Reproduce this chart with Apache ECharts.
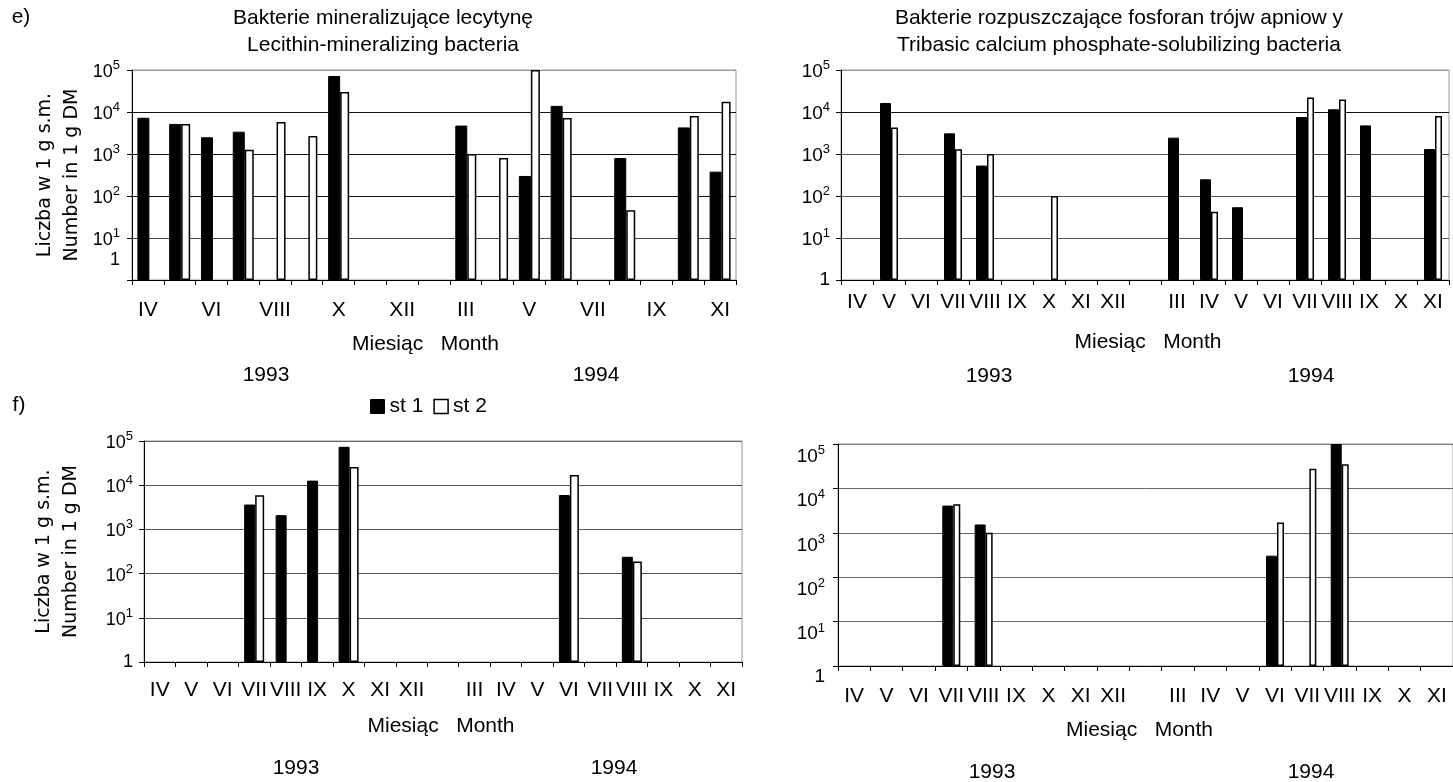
<!DOCTYPE html>
<html>
<head>
<meta charset="utf-8">
<script src="https://cdn.jsdelivr.net/npm/echarts@6/dist/echarts.min.js"></script>
<style>
  html, body { margin: 0; padding: 0; background: #fff; }
  #c { width: 1453px; height: 782px; }
</style>
</head>
<body>
<div id="c"></div>
<script>
// ---- data ----
const months = ['IV','V','VI','VII','VIII','IX','X','XI','XII','','III','IV','V','VI','VII','VIII','IX','X','XI'];
const yTickLabels = ['1','10{s|1}','10{s|2}','10{s|3}','10{s|4}','10{s|5}'];
const yearLabels = ['1993','1994'];
const seriesNames = ['st 1','st 2'];
const titleLecithin = 'Bakterie mineralizujące lecytynę\nLecithin-mineralizing bacteria';
const titlePhosphate = 'Bakterie rozpuszczające fosforan trójw apniow y\nTribasic calcium phosphate-solubilizing bacteria';
const xAxisName = 'Miesiąc   Month';
const yAxisName = 'Liczba w 1 g s.m.\nNumber in 1 g DM';

// e) left: lecithin-mineralizing
const eLeftSt1 = [7300, 5200, 2500, 3400, null, null, 72000, null, null, null, 4750, null, 300, 14000, null, 800, null, 4300, 380];
const eLeftSt2 = [null, 5200, null, 1270, 5800, 2700, 30000, null, null, null, 1000, 800, 100000, 7200, null, 46, null, 8000, 17500];
// e) right: tribasic calcium phosphate-solubilizing
const eRightSt1 = [null, 16400, null, 3100, 530, null, null, null, null, null, 2450, 250, 54, null, 7600, 11600, 4800, null, 1310];
const eRightSt2 = [null, 4250, null, 1290, 1000, null, 100, null, null, null, null, 42, null, null, 22000, 19800, null, null, 8000];
// f) left
const fLeftSt1 = [null, null, null, 3650, 2100, 12700, 74000, null, null, null, null, null, null, 6000, null, 240, null, null, null];
const fLeftSt2 = [null, null, null, 5900, null, null, 25700, null, null, null, null, null, null, 17000, null, 187, null, null, null];
// f) right
const fRightSt1 = [null, null, null, 4100, 1540, null, null, null, null, null, null, null, null, 305, null, 100000, null, null, null];
const fRightSt2 = [null, null, null, 4400, 1000, null, null, null, null, null, null, null, null, 1700, 27700, 35000, null, null, null];

// ---- layout / styles ----
const FONT = '"Liberation Sans", Arial, sans-serif';
const TXT = 21;
const panels = [
  { grid: {left: 132, top: 70, width: 604, height: 210}, st1: eLeftSt1, st2: eLeftSt2,
    labelInterval: 1, xMargin: 20, nameGap: 54, namePad: [0, 17, 0, 0], yFont: 18, yMargin: 12, yLabelVA: 'middle',
    oneShift: 40, yName: true, yNameGap: 46, split: ['#000', '#444', '#111', '#111', '#111', '#999'],
    bw: [12, 9] },
  { grid: {left: 841, top: 70, width: 608, height: 210}, st1: eRightSt1, st2: eRightSt2,
    labelInterval: 0, xMargin: 12, nameGap: 52, namePad: [0, 0, 0, 6], yFont: 19, yMargin: 11, yLabelVA: 'middle',
    oneShift: 0, yName: false, split: ['#000', '#555', '#555', '#555', '#111', '#999'],
    bw: [11, 7] },
  { grid: {left: 144, top: 441, width: 598, height: 221}, st1: fLeftSt1, st2: fLeftSt2,
    labelInterval: 0, xMargin: 18, nameGap: 54, namePad: [0, 4, 0, 0], yFont: 18, yMargin: 11, yLabelVA: 'middle',
    oneShift: 0, yName: true, yNameGap: 59, split: ['#000', '#555', '#555', '#555', '#555', '#666'],
    bw: [11, 9] },
  { grid: {left: 838, top: 444, width: 621, height: 222}, st1: fRightSt1, st2: fRightSt2,
    labelInterval: 0, xMargin: 20, nameGap: 54, namePad: [0, 12, 0, 0], yFont: 19, yMargin: 13, yLabelVA: 'top',
    oneShift: 0, yName: false, split: ['#000', '#666', '#666', '#666', '#666', '#777'],
    bw: [11, 7] }
];

const grids = [], xAxes = [], yAxes = [], series = [];
panels.forEach((p, i) => {
  grids.push(Object.assign({show: true, borderColor: '#999', borderWidth: 1, backgroundColor: 'transparent'}, p.grid));
  xAxes.push({
    type: 'category', gridIndex: i, data: months, boundaryGap: true,
    axisLine: {show: true, lineStyle: {color: '#000', width: 1}},
    axisTick: {show: true, interval: 0, length: 5, lineStyle: {color: '#000'}},
    axisLabel: {interval: p.labelInterval, fontSize: TXT, color: '#000', fontFamily: FONT, margin: p.xMargin},
    splitLine: {show: false},
    name: xAxisName, nameLocation: 'middle', nameGap: p.nameGap,
    nameTextStyle: {fontSize: TXT, color: '#000', fontFamily: FONT, padding: p.namePad}
  });
  const y = {
    type: 'log', logBase: 10, min: 1, max: 100000, gridIndex: i,
    axisLine: {show: true, lineStyle: {color: '#000', width: 1}},
    axisTick: {show: true, length: 5, lineStyle: {color: '#000'}},
    axisLabel: {
      color: '#000', fontFamily: FONT, margin: p.yMargin, verticalAlign: p.yLabelVA,
      formatter: function (v) {
        const e = Math.round(Math.log10(v));
        if (e === 0) return '{o|' + yTickLabels[0] + '}';
        return '{b|' + yTickLabels[e].replace(/\{s\|(\d)\}/, '}{s|$1}');
      },
      rich: {
        b: {fontSize: p.yFont, lineHeight: 22, verticalAlign: 'bottom', fontFamily: FONT, color: '#000'},
        s: {fontSize: 13, lineHeight: 12, verticalAlign: 'top', fontFamily: FONT, color: '#000'},
        o: {fontSize: p.yFont, lineHeight: 22, fontFamily: FONT, color: '#000', padding: [0, 0, p.oneShift, 0]}
      }
    },
    splitLine: {show: true, lineStyle: {color: p.split, width: 1}}
  };
  if (p.yName) {
    Object.assign(y, {
      name: yAxisName, nameLocation: 'middle', nameRotate: 90, nameGap: p.yNameGap,
      nameTextStyle: {fontFamily: '"DejaVu Sans", sans-serif', fontSize: 19, lineHeight: 27, color: '#000'}
    });
  }
  yAxes.push(y);
  series.push({
    name: seriesNames[0], type: 'bar', xAxisIndex: i, yAxisIndex: i, data: p.st1,
    barWidth: p.bw[0], barGap: '0%',
    itemStyle: {color: '#000', borderColor: '#000', borderWidth: 1}
  });
  series.push({
    name: seriesNames[1], type: 'bar', xAxisIndex: i, yAxisIndex: i, data: p.st2,
    barWidth: p.bw[1], barGap: '0%',
    itemStyle: {color: '#fff', borderColor: '#000', borderWidth: 1.5}
  });
});

function txt(text, x, y) {
  return {type: 'text', x: x, y: y, silent: true,
    style: {text: text, fontSize: TXT, fontFamily: FONT, fill: '#000',
      align: 'center', verticalAlign: 'middle', textAlign: 'center', textVerticalAlign: 'middle'}};
}

const option = {
  animation: false,
  backgroundColor: '#fff',
  title: [
    {text: titleLecithin, left: 383, top: 5, textAlign: 'center', padding: 0,
     textStyle: {fontSize: 21, fontWeight: 'normal', lineHeight: 27, color: '#000', fontFamily: FONT}},
    {text: titlePhosphate, left: 1119, top: 5, textAlign: 'center', padding: 0,
     textStyle: {fontSize: 21, fontWeight: 'normal', lineHeight: 27, color: '#000', fontFamily: FONT}}
  ],
  legend: {
    left: 370, top: 396, padding: 0, itemWidth: 14, itemHeight: 14, itemGap: 10,
    textStyle: {fontSize: TXT, color: '#000', fontFamily: FONT},
    data: [
      {name: seriesNames[0], icon: 'rect', itemStyle: {color: '#000', borderColor: '#000', borderWidth: 1}},
      {name: seriesNames[1], icon: 'rect', itemStyle: {color: '#fff', borderColor: '#000', borderWidth: 1.5}}
    ]
  },
  grid: grids, xAxis: xAxes, yAxis: yAxes, series: series,
  graphic: [
    txt('e)', 21, 17), txt('f)', 19, 405),
    txt(yearLabels[0], 266, 375), txt(yearLabels[1], 596, 375),
    txt(yearLabels[0], 989, 376), txt(yearLabels[1], 1311, 376),
    txt(yearLabels[0], 296, 768), txt(yearLabels[1], 614, 768),
    txt(yearLabels[0], 992, 772), txt(yearLabels[1], 1311, 772)
  ]
};

const chart = echarts.init(document.getElementById('c'));
chart.setOption(option);
</script>
</body>
</html>
